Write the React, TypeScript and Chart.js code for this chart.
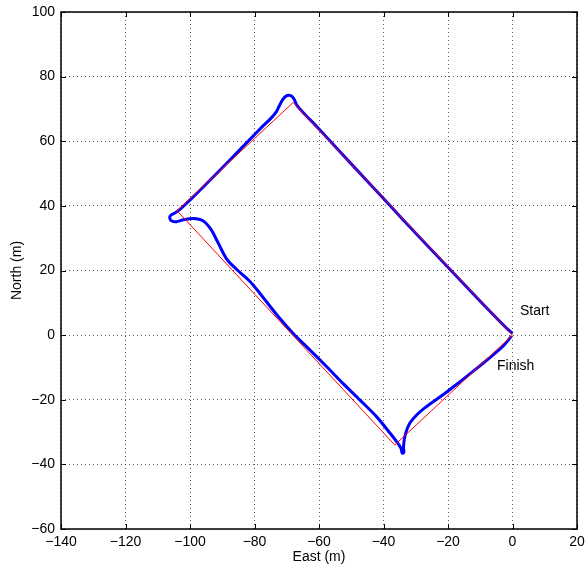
import React, { useEffect, useRef } from "react";
import { Chart, registerables } from "chart.js";

Chart.register(...registerables);

// Planned rectangle (red)
const plannedEast = [0, -68, -104, -36.5, 0];
const plannedNorth = [0, 72, 38.5, -34, 0];

// Driven path (blue)
const pathEast = [
  0, -2, -10, -20, -30, -40, -50, -60, -65, -66.9, -67.6, -68.3, -69.3, -70.3, -71.3, -72.3, -73.3, -75,
  -78.3, -88.6, -99, -104, -105.8, -106.3, -105.6, -104.2, -102, -99, -96, -93.5, -91.2, -88.6, -85.5,
  -81.4, -78.3, -73.1, -68, -62.8, -57.6, -52.5, -47.3, -42.1, -38, -35.9, -34.6, -34.2, -33.7, -33.8,
  -33.3, -32, -29.5, -27.2, -20.4, -10.1, -3, -0.3,
];
const pathNorth = [
  0.5, 2.3, 10.5, 21, 31.5, 42.3, 53, 63.8, 69, 71.2, 72.8, 73.8, 74.2, 73.9, 72.8, 71, 69, 67,
  63.8, 53.2, 42.8, 38.2, 37.2, 36.3, 35.3, 35.1, 35.7, 36.1, 35.4, 32.7, 28.4, 23.5, 20.3,
  16.6, 12.9, 6.3, 0.5, -4.6, -9.8, -15, -20.1, -25.3, -30.3, -33, -35, -36.5, -36.3, -34.5,
  -31, -27.5, -24.5, -22.5, -17.6, -9.5, -3.5, -0.3,
];

const xMin = -140;
const xMax = 20;
const yMin = -60;
const yMax = 100;
const tickStep = 20;

const labelTexts = ["Start", "Finish"];
const labelEast = [2.3, -4.8];
const labelNorth = [7.4, -9.6];

const xTitle = "East (m)";
const yTitle = "North (m)";

const FONT = "'Liberation Sans', Arial, Helvetica, sans-serif";

const fmt = (v: number) => (v < 0 ? "\u2212" + Math.abs(v) : String(v));

const framePlugin = {
  id: "matlabFrame",
  afterDraw(chart: any) {
    const { ctx, chartArea } = chart;
    const { left, right, top, bottom } = chartArea;
    const xs = chart.scales.x;
    const ys = chart.scales.y;
    ctx.save();
    // tick marks (inside)
    ctx.strokeStyle = "#000";
    ctx.lineWidth = 1;
    const tl = 5;
    for (let v = xMin; v <= xMax; v += tickStep) {
      const px = Math.round(xs.getPixelForValue(v)) + 0.5;
      ctx.beginPath();
      ctx.moveTo(px, bottom);
      ctx.lineTo(px, bottom - tl);
      ctx.moveTo(px, top);
      ctx.lineTo(px, top + tl);
      ctx.stroke();
    }
    for (let v = yMin; v <= yMax; v += tickStep) {
      const py = Math.round(ys.getPixelForValue(v)) + 0.5;
      ctx.beginPath();
      ctx.moveTo(left, py);
      ctx.lineTo(left + tl, py);
      ctx.moveTo(right, py);
      ctx.lineTo(right - tl, py);
      ctx.stroke();
    }
    // frame
    ctx.lineWidth = 1.5;
    ctx.strokeRect(left, top, right - left, bottom - top);

    // annotations
    ctx.fillStyle = "#000";
    ctx.font = `14px ${FONT}`;
    ctx.textAlign = "left";
    ctx.textBaseline = "middle";
    for (let i = 0; i < labelTexts.length; i++) {
      ctx.fillText(labelTexts[i], xs.getPixelForValue(labelEast[i]), ys.getPixelForValue(labelNorth[i]));
    }
    // axis titles
    ctx.textAlign = "center";
    ctx.fillText(xTitle, (left + right) / 2, 557);
    ctx.translate(17, (top + bottom) / 2);
    ctx.rotate(-Math.PI / 2);
    ctx.fillText(yTitle, 0, 0);
    ctx.restore();
  },
};

export default function App() {
  const ref = useRef<HTMLCanvasElement | null>(null);
  useEffect(() => {
    if (!ref.current) return;
    const chart = new Chart(ref.current, {
      type: "scatter",
      data: {
        datasets: [
          {
            label: "planned",
            data: plannedEast.map((e, i) => ({ x: e, y: plannedNorth[i] })),
            showLine: true,
            borderColor: "#ff0000",
            borderWidth: 1,
            pointRadius: 0,
            tension: 0,
            fill: false,
            order: 0,
          },
          {
            label: "path",
            data: pathEast.map((e, i) => ({ x: e, y: pathNorth[i] })),
            showLine: true,
            borderColor: "#0000ff",
            borderWidth: 3,
            pointRadius: 0,
            tension: 0.3,
            fill: false,
            order: 1,
          },
        ],
      },
      options: {
        responsive: false,
        animation: false,
        devicePixelRatio: 1,
        layout: { padding: { top: 12, right: 8, left: 0, bottom: 0 } },
        plugins: { legend: { display: false }, tooltip: { enabled: false } },
        scales: {
          x: {
            type: "linear",
            min: xMin,
            max: xMax,
            afterFit: (s: any) => {
              s.height = 41;
              s.paddingLeft = 0;
              s.paddingRight = 0;
              s.paddingTop = 0;
              s.paddingBottom = 0;
            },
            ticks: {
              stepSize: tickStep,
              color: "#000",
              padding: 5,
              maxRotation: 0,
              autoSkip: false,
              font: { family: FONT, size: 14 },
              callback: (v: any) => fmt(Number(v)),
            },
            grid: { color: "rgba(0,0,0,0.65)", lineWidth: 1, drawTicks: false },
            border: { display: false, dash: [1, 3] },
          },
          y: {
            type: "linear",
            min: yMin,
            max: yMax,
            afterFit: (s: any) => {
              s.width = 61;
              s.paddingLeft = 0;
              s.paddingRight = 0;
              s.paddingTop = 0;
              s.paddingBottom = 0;
            },
            ticks: {
              stepSize: tickStep,
              color: "#000",
              padding: 6,
              autoSkip: false,
              font: { family: FONT, size: 14 },
              callback: (v: any) => fmt(Number(v)),
            },
            grid: { color: "rgba(0,0,0,0.65)", lineWidth: 1, drawTicks: false },
            border: { display: false, dash: [1, 3] },
          },
        },
      },
      plugins: [framePlugin],
    });
    return () => chart.destroy();
  }, []);
  return (
    <div style={{ position: "absolute", left: 0, top: 0, width: 585, height: 570, background: "#fff" }}>
      <canvas ref={ref} width={585} height={570} style={{ width: 585, height: 570 }} />
    </div>
  );
}
